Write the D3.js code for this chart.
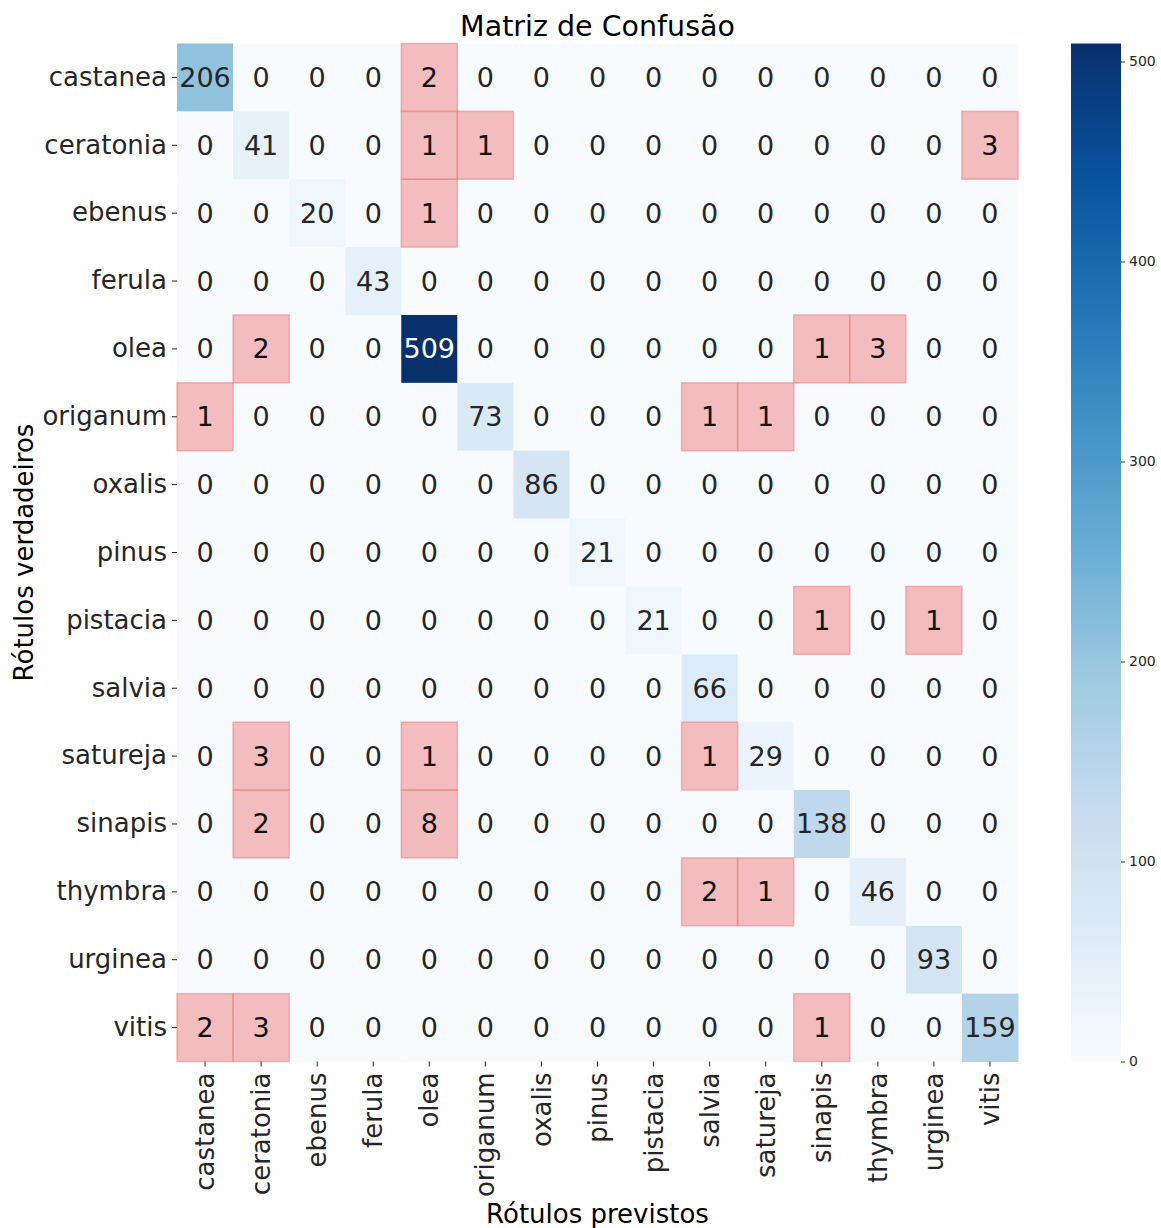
<!DOCTYPE html>
<html>
<head>
<meta charset="utf-8">
<script src="https://cdn.jsdelivr.net/npm/d3@7"></script>
<style>
  html, body { margin: 0; padding: 0; background: #fff; }
  svg { display: block; font-family: "DejaVu Sans", sans-serif; }
</style>
</head>
<body>
<svg id="chart" width="1161" height="1228"></svg>
<script>
// Class names (same order for true and predicted labels)
const classes = ["castanea", "ceratonia", "ebenus", "ferula", "olea", "origanum", "oxalis",
  "pinus", "pistacia", "salvia", "satureja", "sinapis", "thymbra", "urginea", "vitis"];

// Confusion matrix rows: true label, columns: predicted label
const row_castanea  = [206, 0, 0, 0, 2, 0, 0, 0, 0, 0, 0, 0, 0, 0, 0];
const row_ceratonia = [0, 41, 0, 0, 1, 1, 0, 0, 0, 0, 0, 0, 0, 0, 3];
const row_ebenus    = [0, 0, 20, 0, 1, 0, 0, 0, 0, 0, 0, 0, 0, 0, 0];
const row_ferula    = [0, 0, 0, 43, 0, 0, 0, 0, 0, 0, 0, 0, 0, 0, 0];
const row_olea      = [0, 2, 0, 0, 509, 0, 0, 0, 0, 0, 0, 1, 3, 0, 0];
const row_origanum  = [1, 0, 0, 0, 0, 73, 0, 0, 0, 1, 1, 0, 0, 0, 0];
const row_oxalis    = [0, 0, 0, 0, 0, 0, 86, 0, 0, 0, 0, 0, 0, 0, 0];
const row_pinus     = [0, 0, 0, 0, 0, 0, 0, 21, 0, 0, 0, 0, 0, 0, 0];
const row_pistacia  = [0, 0, 0, 0, 0, 0, 0, 0, 21, 0, 0, 1, 0, 1, 0];
const row_salvia    = [0, 0, 0, 0, 0, 0, 0, 0, 0, 66, 0, 0, 0, 0, 0];
const row_satureja  = [0, 3, 0, 0, 1, 0, 0, 0, 0, 1, 29, 0, 0, 0, 0];
const row_sinapis   = [0, 2, 0, 0, 8, 0, 0, 0, 0, 0, 0, 138, 0, 0, 0];
const row_thymbra   = [0, 0, 0, 0, 0, 0, 0, 0, 0, 2, 1, 0, 46, 0, 0];
const row_urginea   = [0, 0, 0, 0, 0, 0, 0, 0, 0, 0, 0, 0, 0, 93, 0];
const row_vitis     = [2, 3, 0, 0, 0, 0, 0, 0, 0, 0, 0, 1, 0, 0, 159];

const matrix = [row_castanea, row_ceratonia, row_ebenus, row_ferula, row_olea, row_origanum,
  row_oxalis, row_pinus, row_pistacia, row_salvia, row_satureja, row_sinapis, row_thymbra,
  row_urginea, row_vitis];

const colorbarTicks = [0, 100, 200, 300, 400, 500];

// Blues colour ramp (piecewise linear between the nine ColorBrewer stops)
const bluesStops = ["#f7fbff", "#deebf7", "#c6dbef", "#9ecae1", "#6baed6",
  "#4292c6", "#2171b5", "#08519c", "#08306b"];

const svg = d3.select("#chart");
const plotLeft = 177, plotRight = 1018, plotTop = 43.5, plotBottom = 1061.5;

const x = d3.scaleBand().domain(d3.range(classes.length)).range([plotLeft, plotRight]);
const y = d3.scaleBand().domain(d3.range(classes.length)).range([plotTop, plotBottom]);

const vmax = d3.max(matrix.flat());
const color = d3.scaleLinear()
  .domain(bluesStops.map((_, i) => vmax * i / (bluesStops.length - 1)))
  .range(bluesStops)
  .interpolate(d3.interpolateRgb);

const cells = [];
matrix.forEach((row, i) => row.forEach((v, j) => cells.push({ i, j, v })));

// Heatmap cells
svg.append("g").selectAll("rect").data(cells).join("rect")
  .attr("x", d => x(d.j)).attr("y", d => y(d.i))
  .attr("width", x.bandwidth() + 0.5).attr("height", y.bandwidth() + 0.5)
  .attr("fill", d => color(d.v));

// Highlight misclassifications (non-zero off-diagonal cells)
const errors = cells.filter(d => d.i !== d.j && d.v > 0);
svg.append("g").selectAll("rect").data(errors).join("rect")
  .attr("x", d => x(d.j)).attr("y", d => y(d.i))
  .attr("width", x.bandwidth()).attr("height", y.bandwidth())
  .attr("fill", "rgb(240,128,128)").attr("fill-opacity", 0.5)
  .attr("stroke", "rgb(240,128,128)").attr("stroke-opacity", 0.55).attr("stroke-width", 1.5);

// Text colour from luminance of the cell colour
function textColor(d) {
  if (d.i !== d.j && d.v > 0) return "#111";
  const c = d3.rgb(color(d.v));
  const lin = v => { v /= 255; return v <= 0.03928 ? v / 12.92 : Math.pow((v + 0.055) / 1.055, 2.4); };
  const lum = 0.2126 * lin(c.r) + 0.7152 * lin(c.g) + 0.0722 * lin(c.b);
  return lum > 0.408 ? "#262626" : "#ffffff";
}

svg.append("g").selectAll("text").data(cells).join("text")
  .attr("x", d => x(d.j) + x.bandwidth() / 2)
  .attr("y", d => y(d.i) + y.bandwidth() / 2)
  .attr("text-anchor", "middle").attr("dominant-baseline", "central")
  .attr("font-size", 27)
  .attr("fill", textColor)
  .text(d => d.v);

// Axes
const xAxis = d3.axisBottom(x).tickSize(5).tickPadding(6).tickFormat(i => classes[i]);
const gx = svg.append("g").attr("transform", `translate(0,${plotBottom})`).call(xAxis);
gx.select(".domain").remove();
gx.selectAll(".tick line").attr("stroke", "#262626").attr("stroke-width", 1);
gx.selectAll(".tick text")
  .attr("font-size", 26).attr("fill", "#262626")
  .attr("font-family", "DejaVu Sans")
  .attr("transform", "rotate(-90)")
  .attr("text-anchor", "end")
  .attr("x", -11).attr("y", 0).attr("dy", "0.35em");

const yAxis = d3.axisLeft(y).tickSize(5).tickPadding(5).tickFormat(i => classes[i]);
const gy = svg.append("g").attr("transform", `translate(${plotLeft},0)`).call(yAxis);
gy.select(".domain").remove();
gy.selectAll(".tick line").attr("stroke", "#262626").attr("stroke-width", 1);
gy.selectAll(".tick text").attr("font-size", 26).attr("fill", "#262626")
  .attr("font-family", "DejaVu Sans");

// Titles
svg.append("text").attr("x", (plotLeft + plotRight) / 2).attr("y", 36)
  .attr("text-anchor", "middle").attr("font-size", 28.5).attr("fill", "#000")
  .text("Matriz de Confusão");
svg.append("text").attr("x", (plotLeft + plotRight) / 2).attr("y", 1223)
  .attr("text-anchor", "middle").attr("font-size", 26).attr("fill", "#000")
  .text("Rótulos previstos");
svg.append("text")
  .attr("transform", `translate(33,${(plotTop + plotBottom) / 2}) rotate(-90)`)
  .attr("text-anchor", "middle").attr("font-size", 26).attr("fill", "#000")
  .text("Rótulos verdadeiros");

// Colour bar
const cbX = 1071, cbW = 50;
const cbScale = d3.scaleLinear().domain([0, vmax]).range([plotBottom, plotTop]);
const defs = svg.append("defs");
const grad = defs.append("linearGradient").attr("id", "cbGrad")
  .attr("x1", 0).attr("y1", 1).attr("x2", 0).attr("y2", 0);
bluesStops.forEach((c, i) => grad.append("stop")
  .attr("offset", i / (bluesStops.length - 1)).attr("stop-color", c));
svg.append("rect").attr("x", cbX).attr("y", plotTop).attr("width", cbW).attr("height", plotBottom - plotTop)
  .attr("fill", "url(#cbGrad)");
const cbAxis = d3.axisRight(cbScale).tickValues(colorbarTicks).tickSize(4).tickPadding(4);
const gc = svg.append("g").attr("transform", `translate(${cbX + cbW},0)`).call(cbAxis);
gc.select(".domain").remove();
gc.selectAll(".tick line").attr("stroke", "#262626");
gc.selectAll(".tick text").attr("font-size", 14).attr("fill", "#262626")
  .attr("font-family", "DejaVu Sans");
</script>
</body>
</html>
